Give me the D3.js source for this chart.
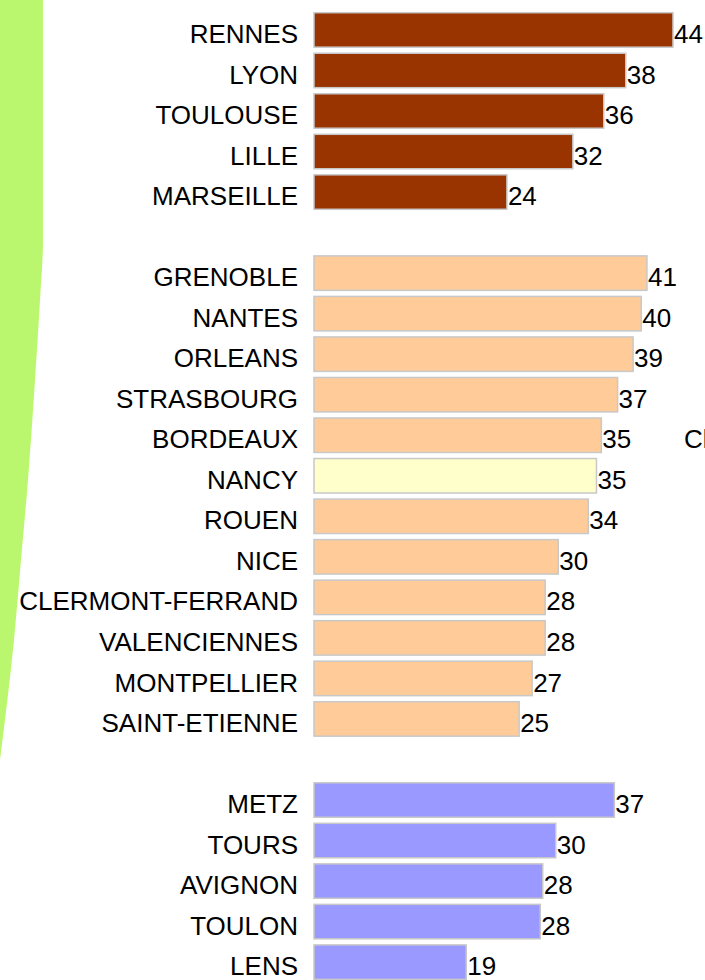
<!DOCTYPE html>
<html>
<head>
<meta charset="utf-8">
<script src="https://cdn.jsdelivr.net/npm/d3@7"></script>
<style>
  html, body { margin: 0; padding: 0; background: #fff; overflow: hidden; }
  svg { display: block; font-family: "Liberation Sans", Arial, sans-serif; }
</style>
</head>
<body>
<svg id="graphique" width="705" height="980"></svg>
<script>
// villes par groupe (ordre d'affichage)
const groupe1 = ["RENNES", "LYON", "TOULOUSE", "LILLE", "MARSEILLE"];
const valeurs1 = [44.1, 38.3, 35.6, 31.8, 23.7];

const groupe2 = ["GRENOBLE", "NANTES", "ORLEANS", "STRASBOURG", "BORDEAUX", "NANCY",
  "ROUEN", "NICE", "CLERMONT-FERRAND", "VALENCIENNES", "MONTPELLIER", "SAINT-ETIENNE"];
const valeurs2 = [40.9, 40.2, 39.2, 37.3, 35.3, 34.7, 33.7, 30.0, 28.4, 28.4, 26.8, 25.2];

const groupe3 = ["METZ", "TOURS", "AVIGNON", "TOULON", "LENS"];
const valeurs3 = [36.9, 29.7, 28.1, 27.8, 18.7];

const villeMiseEnAvant = "NANCY";
const couleurs = ["#993300", "#ffcc99", "#9999ff"];
const couleurMiseEnAvant = "#ffffcc";

// lignes : groupes separes par une ligne vide
var lignes = [];
[[groupe1, valeurs1], [groupe2, valeurs2], [groupe3, valeurs3]].forEach(function(g, gi){
  if(gi > 0) lignes.push({ville: "vide" + gi, valeur: null});
  g[0].forEach(function(v, i){
    lignes.push({ville: v, valeur: g[1][i], couleur: v == villeMiseEnAvant ? couleurMiseEnAvant : couleurs[gi]});
  });
});

var graphique = d3.select("#graphique");

// forme verte a gauche
var bord = [[43, 0], [43, 240], [40, 300], [35, 380], [28, 480], [21, 560], [14, 640], [0, 760]];
var aire = d3.area().x0(0).x1(function(d){ return d[0]; }).y(function(d){ return d[1]; }).curve(d3.curveMonotoneY);
graphique.append("path").attr("d", aire(bord)).attr("fill", "#bbf76e");

var xScale = d3.scaleLinear().domain([0, 50]).range([314, 721]);
var yScale = d3.scaleBand()
  .domain(lignes.map(function(d){ return d.ville; }))
  .range([9.66, 982.4])
  .paddingInner(0.15)
  .paddingOuter(0.075);

var donnees = lignes.filter(function(d){ return d.valeur != null; });

graphique.selectAll("rect.barre").data(donnees).enter().append("rect")
  .attr("class", "barre")
  .attr("x", xScale(0))
  .attr("y", function(d){ return yScale(d.ville); })
  .attr("width", function(d){ return xScale(d.valeur) - xScale(0); })
  .attr("height", yScale.bandwidth())
  .attr("fill", function(d){ return d.couleur; })
  .attr("stroke", "#c8c8c8")
  .attr("stroke-width", 1.5);

var centre = yScale.bandwidth() / 2 + 4;

graphique.selectAll("text.ville").data(donnees).enter().append("text")
  .attr("class", "ville")
  .attr("x", 298)
  .attr("y", function(d){ return yScale(d.ville) + centre; })
  .attr("dy", "0.35em")
  .attr("text-anchor", "end")
  .attr("font-size", 26)
  .attr("fill", "#000")
  .text(function(d){ return d.ville; });

graphique.selectAll("text.valeur").data(donnees).enter().append("text")
  .attr("class", "valeur")
  .attr("x", function(d){ return xScale(d.valeur) + 1; })
  .attr("y", function(d){ return yScale(d.ville) + centre; })
  .attr("dy", "0.35em")
  .attr("font-size", 26)
  .attr("fill", "#000")
  .text(function(d){ return d3.format(".0f")(d.valeur); });

// texte coupe a droite
graphique.append("text")
  .attr("x", 684)
  .attr("y", yScale("BORDEAUX") + centre)
  .attr("dy", "0.35em")
  .attr("font-size", 26)
  .text("Classement");
</script>
</body>
</html>
